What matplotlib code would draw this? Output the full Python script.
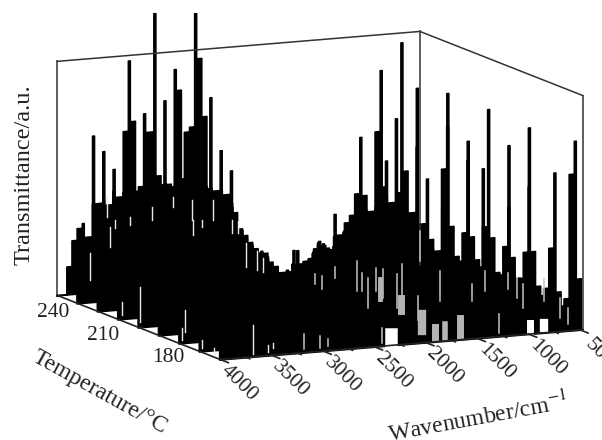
import matplotlib
matplotlib.use('Agg')
import matplotlib.pyplot as plt
from matplotlib.transforms import Bbox
from mpl_toolkits.mplot3d.art3d import Poly3DCollection

plt.rcParams['font.family'] = ['Liberation Serif', 'DejaVu Serif']
plt.rcParams['mathtext.fontset'] = 'stix'

wavenumbers = list(range(4000, 450, -50))
temperatures = [240, 232.5, 225, 217.5, 210, 202.5, 195, 187.5, 180]

t240 = [0, 0, 12, 23, 28, 30, 24, 67, 38, 60,
        37, 52, 40, 42, 38, 42, 40, 44, 40, 44,
        40, 44, 38, 43, 40, 38, 36, 40, 36, 34,
        36, 30, 30, 30, 22, 15, 18, 15, 12, 11,
        10, 6, 3, 2, 2, 2, 11, 5, 6, 7,
        11, 14, 12, 10, 25, 16, 21, 24, 33, 57,
        32, 25, 27, 35, 46, 28, 32, 96, 41, 23, 76]
t232 = [12, 30, 27, 42, 38, 43, 38, 47, 44, 72,
        102, 76, 46, 48, 44, 50, 42, 48, 44, 48,
        44, 46, 40, 46, 38, 42, 36, 38, 40, 38,
        30, 20, 22, 20, 17, 14, 13, 11, 7, 5,
        5, 5, 6, 8, 9, 10, 12, 16, 14, 14,
        18, 18, 20, 22, 24, 26, 30, 25, 63, 89,
        35, 22, 18, 20, 24, 18, 55, 22, 41, 15, 9]
t225 = [30, 45, 40, 48, 40, 50, 52, 48, 52, 83,
        75, 135, 56, 52, 52, 50, 52, 46, 50, 44,
        48, 42, 48, 40, 44, 40, 40, 30, 25, 24,
        20, 18, 17, 14, 10, 9, 9, 10, 12, 12,
        14, 15, 18, 20, 18, 18, 22, 22, 25, 28,
        30, 28, 30, 28, 32, 30, 28, 25, 72, 28,
        30, 26, 22, 25, 20, 15, 14, 32, 81, 24, 11]
t217 = [25, 50, 45, 55, 52, 56, 52, 56, 54, 92,
        55, 105, 96, 58, 52, 54, 52, 54, 50, 50,
        46, 44, 42, 38, 32, 28, 25, 23, 22, 19,
        16, 13, 12, 13, 14, 15, 17, 18, 22, 26,
        24, 22, 28, 26, 30, 32, 33, 30, 33, 35,
        34, 32, 35, 30, 28, 32, 30, 28, 26, 24,
        22, 20, 18, 53, 71, 14, 13, 25, 64, 23, 13]
t210 = [25, 48, 58, 55, 60, 58, 60, 58, 60, 82,
        84, 145, 113, 88, 57, 55, 56, 50, 50, 42,
        38, 32, 30, 28, 26, 25, 20, 18, 16, 17,
        18, 20, 20, 22, 25, 30, 28, 26, 26, 30,
        33, 34, 35, 32, 34, 38, 36, 38, 36, 32,
        30, 34, 32, 30, 26, 28, 24, 22, 20, 22,
        20, 18, 16, 15, 60, 15, 14, 31, 81, 26, 11]
t202 = [30, 55, 60, 62, 63, 60, 62, 60, 60, 60,
        100, 60, 77, 58, 68, 50, 40, 35, 35, 33,
        30, 30, 25, 22, 20, 22, 26, 24, 24, 25,
        30, 34, 32, 30, 32, 34, 38, 38, 40, 36,
        38, 42, 40, 42, 36, 34, 32, 36, 35, 30,
        26, 30, 26, 24, 22, 24, 22, 20, 19, 18,
        24, 18, 17, 60, 18, 14, 14, 26, 69, 21, 12]
t195 = [30, 60, 65, 64, 63, 64, 62, 60, 60, 60,
        56, 50, 47, 44, 40, 38, 36, 34, 30, 25,
        24, 26, 30, 28, 27, 30, 34, 38, 36, 34,
        36, 38, 42, 42, 44, 40, 42, 45, 44, 42,
        40, 38, 36, 40, 38, 34, 30, 33, 30, 26,
        25, 26, 24, 22, 22, 20, 26, 20, 19, 20,
        22, 17, 16, 16, 47, 14, 16, 27, 80, 27, 12]
t187 = [35, 68, 70, 65, 68, 60, 62, 56, 50, 47,
        45, 42, 40, 38, 32, 30, 28, 30, 34, 32,
        32, 34, 38, 42, 40, 38, 40, 42, 46, 46,
        48, 44, 46, 48, 46, 45, 44, 42, 40, 44,
        42, 38, 34, 36, 33, 30, 28, 28, 27, 25,
        25, 24, 28, 24, 22, 22, 24, 18, 20, 20,
        20, 17, 15, 16, 59, 16, 12, 15, 32, 64, 13]
t180 = [30, 60, 55, 45, 50, 48, 46, 44, 45, 44,
        40, 38, 35, 36, 35, 44, 38, 38, 40, 44,
        46, 44, 42, 46, 48, 50, 52, 50, 52, 54,
        52, 50, 48, 46, 44, 46, 46, 42, 38, 40,
        36, 32, 30, 30, 30, 30, 28, 28, 30, 28,
        26, 26, 26, 24, 23, 22, 24, 18, 20, 18,
        20, 17, 16, 13, 14, 13, 11, 14, 67, 81, 22]
spectra = [t240, t232, t225, t217, t210, t202, t195, t187, t180]

# thin gaps between the traces: wavenumber, low, high
gaps_back = [(3679, 5.3, 16.8), (3485, 18.6, 27.2), (3436, 26.6, 30), (3368, -10.9, -5.3),
             (3193, -14.5, 0.5), (2756, -20.3, -10.9), (2785, -23.7, -18.5), (2678, 20.8, 27.2),
             (2591, 23.9, 26.9), (2591, -27.8, -24.4), (2299, 20.3, 25.9), (2241, 20.1, 25.6),
             (2163, 5.3, 15.5), (2056, 3.6, 12.1), (1998, 2.5, 8.9), (2095, -31.8, -19.8),
             (1949, -31.8, -28.8), (1900, -30.3, -28.2), (2474, -31.2, -28.2), (3077, 28.7, 34.2),
             (3290, 27.3, 30.7), (2688, 27.3, 35.8), (2872, 33.5, 37.8), (2484, 26.5, 35.1),
             (3514, 31.6, 40.1)]
gaps_front = [(3077, 29.1, 33.4), (3009, 26.7, 32.3), (2882, 30.6, 35.3), (2668, 24.6, 37.4),
              (2620, 24.4, 32.1), (2561, 17, 29.8), (2484, 23.9, 33.8), (2416, 20.7, 33.1),
              (2280, 15.9, 30.5), (2231, 18.8, 34.6), (2075, 9.7, 20.3), (1862, 17.4, 30.2),
              (2056, 35.2, 48), (1551, 16.3, 23.5), (1424, 20.1, 28.6), (1288, 1.6, 9.7),
              (1201, 20.1, 27), (1113, 15.9, 24.5), (1055, 11.5, 21.8), (851, 13.7, 23.1),
              (695, 5.9, 14.4), (618, 3, 9.9), (3028, 1.6, 6.7), (2950, 2.1, 5.1),
              (3184, 1.7, 8.1), (2425, 1.5, 7.9)]
wide_white = [(987, 1.4, 4.8, 5), (851, 2.2, 4.3, 6), (2338, 1.2, 5, 9)]
wide_grey = [(2445, 20.4, 28.9, 3.5), (2241, 14.5, 20, 5), (2036, 5.2, 12.5, 6),
             (1813, 1.4, 7.4, 4), (1667, 1.8, 9.4, 5), (1910, 1.8, 6.1, 5)]

wn_ticks = [4000, 3500, 3000, 2500, 2000, 1500, 1000, 500]
wn_minor = [3750, 3250, 2750, 2250, 1750, 1250, 750]
temp_ticks = [180, 210, 240]
temp_labels = ['180', '210', '240']

W, H = 602, 440
fig = plt.figure(figsize=(W / 100, H / 100), dpi=100, facecolor='w')
ax = fig.add_axes([10.9 / W, -64.6 / H, 1, W / H], projection='3d', proj_type='ortho')
ax.view_init(elev=10.38, azim=245.4)
ax.set_xlim(4000, 470)
ax.set_ylim(180, 240)
ax.set_zlim(0, 100)
ax.set_box_aspect((399.2, 391.9, 237.9), zoom=0.98)
ax.set_axis_off()
ax.computed_zorder = False

edge = '#333333'
wl, wr = 4000, 470
# walls behind the spectra
ax.plot([wl, wr], [240, 240], [100, 100], color=edge, lw=1.1, clip_on=False)
ax.plot([wr, wr], [240, 180], [100, 100], color=edge, lw=1.1, clip_on=False)
ax.plot([wl, wl], [240, 240], [0, 100], color=edge, lw=1.1, clip_on=False)
ax.plot([wr, wr], [240, 240], [0, 100], color=edge, lw=1.1, clip_on=False)
ax.plot([wr, wr], [180, 180], [0, 100], color=edge, lw=1.1, clip_on=False)

half = 10  # half width of a spike, cm-1


def outline(t, spec):
    # narrow block at every sample, lower neighbour level between samples
    pts = [(wavenumbers[0] + half, t, 0)]
    for i, (w, v) in enumerate(zip(wavenumbers, spec)):
        pts += [(w + half, t, v), (w - half, t, v)]
        if i < len(spec) - 1:
            low = min(v, spec[i + 1])
            pts += [(w - half, t, low), (wavenumbers[i + 1] + half, t, low)]
    pts.append((wavenumbers[-1] - half, t, 0))
    return pts


# back to front, spikes cut at the top of the picture
for t, spec in zip(temperatures, spectra):
    poly = Poly3DCollection([outline(t, spec)], facecolor='black', edgecolor='black', linewidths=1.1)
    ax.add_collection3d(poly)
    poly.set_clip_box(Bbox([[0, 0], [W, H - 13]]))

for w, lo, hi in gaps_back:
    ax.plot([w, w], [240, 240], [lo, hi], color='#e8e8e8', lw=1.0, clip_on=False)
for w, lo, hi in gaps_front:
    ax.plot([w, w], [180, 180], [lo, hi], color='#c4c4c4', lw=1.1, clip_on=False)
for w, lo, hi, lw in wide_grey:
    ax.plot([w, w], [180, 180], [lo, hi], color='#b4b4b4', lw=lw, clip_on=False)
for w, lo, hi, lw in wide_white:
    ax.plot([w, w], [180, 180], [lo, hi], color='white', lw=lw, clip_on=False)

# floor edges and ticks
ax.plot([wl, wl], [240, 180], [0, 0], color='#222222', lw=1.2, clip_on=False)
ax.plot([wl, wr], [180, 180], [0, 0], color='#222222', lw=1.2, clip_on=False)
for w in wn_ticks:
    ax.plot([w, w], [180, 177], [0, 0], color='#222222', lw=1.2, clip_on=False)
    ax.text(w, 180 - 7, -7, str(w), zdir=(0, -1, -0.7), fontsize=15.5, ha='center', va='center', color='#222222', clip_on=False)
for w in wn_minor:
    ax.plot([w, w], [180, 178.5], [0, 0], color='#222222', lw=1.0, clip_on=False)
for t in temp_ticks:
    ax.plot([4000, 3960], [t, t], [0, 0], color='#222222', lw=1.0, clip_on=False)

for s, (x, y) in zip(temp_labels, [(168, 358), (103, 335), (53, 312)]):
    fig.text(x / W, 1 - y / H, s, fontsize=15.5, ha='center', va='center', color='#222222')
fig.text(24 / W, 1 - 175 / H, 'Transmittance/a.u.', rotation=90, fontsize=17.5, ha='center', va='center', color='#222222')
fig.text(100 / W, 1 - 392 / H, 'Temperature/°C', rotation=-29, fontsize=17, ha='center', va='center', color='#222222')
fig.text(478 / W, 1 - 418 / H, 'Wavenumber/cm$^{-1}$', rotation=10.5, fontsize=17, ha='center', va='center', color='#222222')

fig.savefig('out.png', dpi=100)
